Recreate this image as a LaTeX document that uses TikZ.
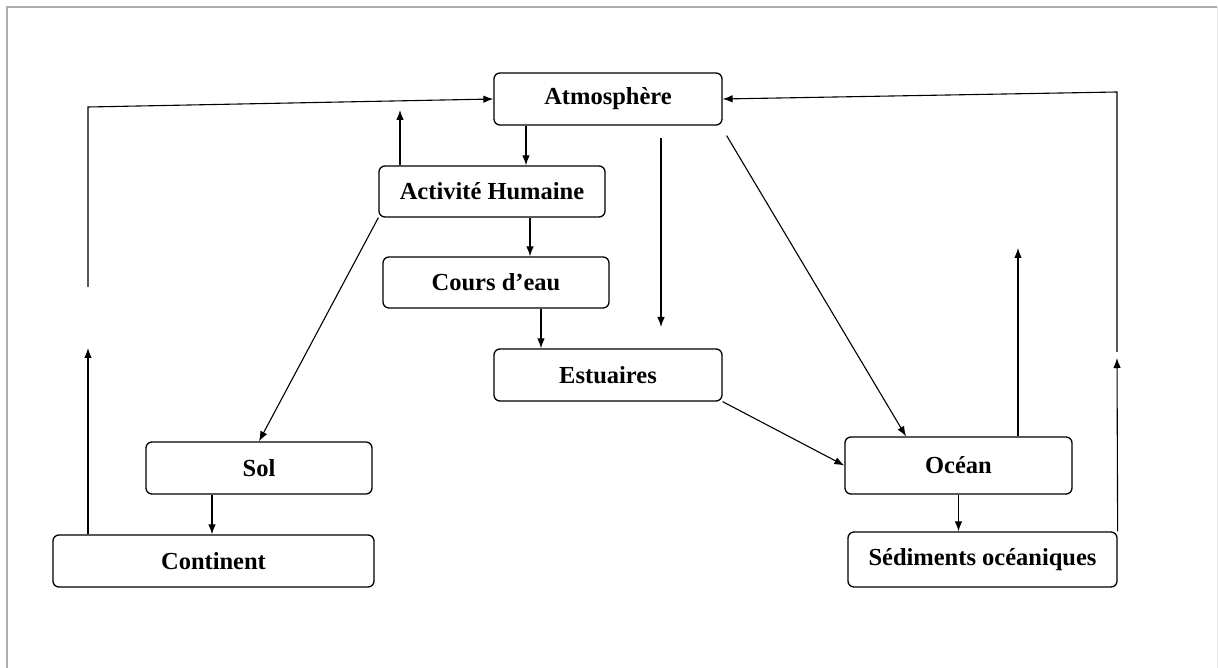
\documentclass[tikz,border=0pt]{standalone}
\usepackage{fontspec}
\setmainfont{Liberation Serif}
\usetikzlibrary{arrows.meta}
\tikzset{
  bloc/.style={draw,rounded corners=6pt,line width=1.3pt,inner sep=0pt,
    font=\bfseries\fontsize{24.5}{27}\selectfont},
  flux/.style={-{Latex[length=10pt,width=7.5pt]},line width=1.1pt}
}
\begin{document}
\begin{tikzpicture}[x=1pt,y=-1pt]
                      \useasboundingbox (0,0) rectangle (1219,668);
                      \draw[gray!65,line width=1.8pt] (7,668) -- (7,7) -- (1217,7);
                      \draw[gray!15,line width=1pt] (1217,7) -- (1217,668);
                      \node[bloc,minimum width=228pt,minimum height=52pt](atm)at(608,99){Atmosphère};
                      \node[bloc,minimum width=226pt,minimum height=51pt](act)at(492,191.5){Activité Humaine};
                      \node[bloc,minimum width=226pt,minimum height=51pt](cours)at(496,282.5){Cours d’eau};
                      \node[bloc,minimum width=228pt,minimum height=52pt](estu)at(608,375){Estuaires};
                      \node[bloc,minimum width=226pt,minimum height=52pt](sol)at(259,468){Sol};
                      \node[bloc,minimum width=321pt,minimum height=52pt](cont)at(213.5,561){Continent};
                      \node[bloc,minimum width=227pt,minimum height=57pt](ocean)at(958.5,465.5){Océan};
                      \node[bloc,minimum width=269pt,minimum height=55pt](sed)at(982.5,559.5){Sédiments océaniques};
                      \coordinate (hautAct) at (400,110);
                      \coordinate (hautCont) at (88,348);
                      \coordinate (gaucheBas) at (88,287);
                      \coordinate (gaucheHaut) at (88,107);
                      \coordinate (pluieHaut) at (661,138);
                      \coordinate (pluieBas) at (661,327);
                      \coordinate (hautOcean) at (1018,248);
                      \coordinate (hautSed) at (1117,358);
                      \coordinate (droiteBas) at (1117,352);
                      \coordinate (droiteHaut) at (1117,92);
                      \draw[flux] ([xshift=-82pt]atm.south) -- ([xshift=34pt]act.north);
                      \draw[flux] ([xshift=38pt]act.south) -- ([xshift=34pt]cours.north);
                      \draw[flux] ([xshift=45pt]cours.south) -- ([xshift=-67pt]estu.north);
                      \draw[flux] ([xshift=-92pt]act.north) -- (hautAct);
                      \draw[flux] (act.south west) -- (sol.north);
                      \draw[flux] ([xshift=-47pt]sol.south) -- ([xshift=-1.5pt]cont.north);
                      \draw[flux] ([xshift=-125.5pt]cont.north) -- (hautCont);
                      \draw[flux] (gaucheBas) -- (gaucheHaut) -- (atm.west);
                      \draw[flux] (pluieHaut) -- (pluieBas);
                      \draw[flux] ([shift={(4,10)}]atm.south east) -- ([xshift=-52.5pt]ocean.north);
                      \draw[flux] (estu.south east) -- (ocean.west);
                      \draw[flux] ([xshift=59.5pt]ocean.north) -- (hautOcean);
                      \draw[flux] (ocean.south) -- (ocean.south |- sed.north);
                      \draw[flux] (sed.north east) -- (hautSed);
                      \draw[flux] (droiteBas) -- (droiteHaut) -- (atm.east);
                  \end{tikzpicture}
\end{document}
